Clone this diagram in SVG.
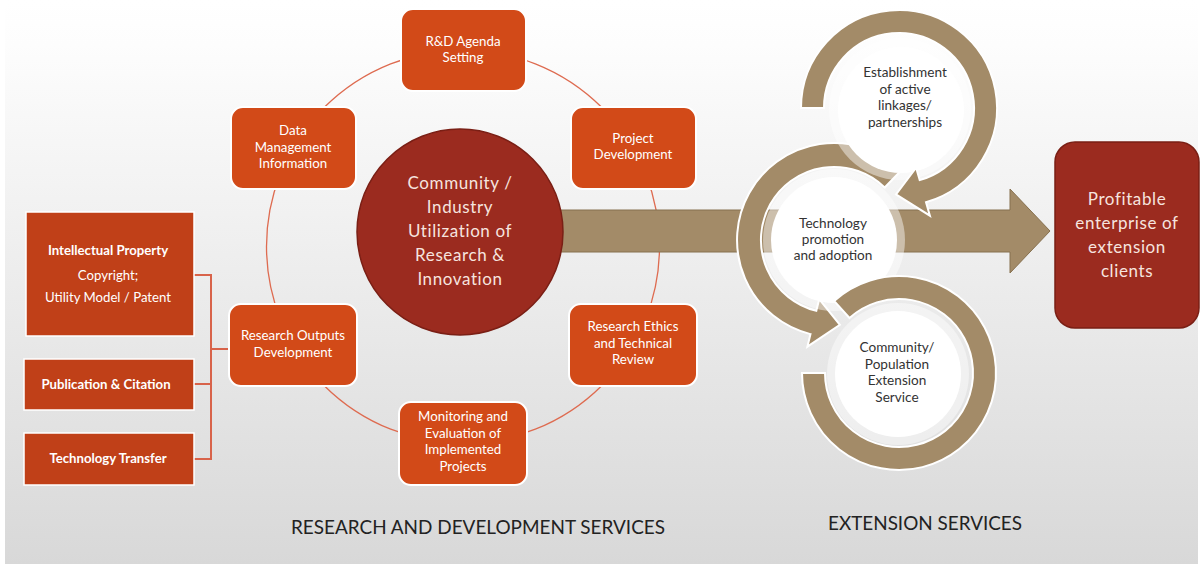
<svg xmlns="http://www.w3.org/2000/svg" width="1203" height="564" viewBox="0 0 1203 564">
<defs>
<linearGradient id="bg" x1="0" y1="0" x2="0" y2="1">
<stop offset="0" stop-color="#ffffff"/>
<stop offset="0.08" stop-color="#fdfdfd"/>
<stop offset="1" stop-color="#d8d8d8"/>
</linearGradient>
<style>
.cyc{fill:#d24a18;stroke:#ffffff;stroke-width:2}
.lbox{fill:#c04018;stroke:#ffffff;stroke-width:1.5}
.wt{fill:#ffffff;font-family:Lato,"Liberation Sans",sans-serif;font-size:13.3px;text-anchor:middle}
.lt{fill:#ffffff;font-family:Lato,"Liberation Sans",sans-serif;font-size:13.2px;text-anchor:middle}
.b{font-weight:bold}
.big{fill:#f6e4df;font-family:Lato,"Liberation Sans",sans-serif;font-size:17px;text-anchor:middle;letter-spacing:0.6px}
.dt{fill:#333333;font-family:Lato,"Liberation Sans",sans-serif;font-size:13.6px;text-anchor:middle}
.ring{fill:#a38b68;stroke:#ffffff;stroke-width:2;stroke-linejoin:miter}
.halo{fill:#ffffff;fill-opacity:0.45}
.disc{fill:#ffffff}
.con{fill:none;stroke:#de6b50;stroke-width:1.3}
.brk{fill:none;stroke:#d8634a;stroke-width:2}
.cap{fill:#222222;font-family:Lato,"Liberation Sans",sans-serif;font-size:20px;text-anchor:middle}
</style>
</defs>
<rect x="0" y="0" width="1203" height="564" fill="#ffffff"/>
<rect x="5" y="0" width="1193" height="564" fill="url(#bg)"/>

<g id="connectors">
<circle class="con" cx="463" cy="246.5" r="196.5"/>
<path class="brk" d="M194,275 H211 V459 H194 M194,384 H211 M211,349 H230"/>
</g>

<g id="big-arrow">
<path d="M560,210 H1010 V189 L1050,231 L1010,273 V252 H560 Z" fill="#a38b68" stroke="#86704f" stroke-width="1"/>
</g>

<g id="hub">
<circle cx="460" cy="232" r="103" fill="#9b2b1f" stroke="#7a1f15" stroke-width="1.5"/>
<text class="big" x="460" y="189">Community /</text>
<text class="big" x="460" y="213">Industry</text>
<text class="big" x="460" y="237">Utilization of</text>
<text class="big" x="460" y="261">Research &amp;</text>
<text class="big" x="460" y="285">Innovation</text>
</g>

<g id="rd-agenda">
<rect class="cyc" x="401" y="9" width="125" height="82" rx="12"/>
<text class="wt" x="463" y="46">R&amp;D Agenda</text>
<text class="wt" x="463" y="62">Setting</text>
</g>
<g id="project-dev">
<rect class="cyc" x="571" y="107" width="125" height="82" rx="12"/>
<text class="wt" x="633" y="143">Project</text>
<text class="wt" x="633" y="159">Development</text>
</g>
<g id="ethics">
<rect class="cyc" x="569" y="304" width="128" height="82" rx="12"/>
<text class="wt" x="633" y="331">Research Ethics</text>
<text class="wt" x="633" y="348">and Technical</text>
<text class="wt" x="633" y="364">Review</text>
</g>
<g id="monitoring">
<rect class="cyc" x="399" y="402" width="128" height="83" rx="12"/>
<text class="wt" x="463" y="421">Monitoring and</text>
<text class="wt" x="463" y="438">Evaluation of</text>
<text class="wt" x="463" y="454">Implemented</text>
<text class="wt" x="463" y="471">Projects</text>
</g>
<g id="outputs">
<rect class="cyc" x="229" y="304" width="128" height="82" rx="12"/>
<text class="wt" x="293" y="340">Research Outputs</text>
<text class="wt" x="293" y="357">Development</text>
</g>
<g id="data-mgmt">
<rect class="cyc" x="231" y="107" width="125" height="82" rx="12"/>
<text class="wt" x="293" y="135">Data</text>
<text class="wt" x="293" y="152">Management</text>
<text class="wt" x="293" y="168">Information</text>
</g>

<g id="ip">
<rect class="lbox" x="26" y="212" width="168" height="124"/>
<text class="lt b" x="108" y="255">Intellectual Property</text>
<text class="lt" x="108" y="280">Copyright;</text>
<text class="lt" x="108" y="302">Utility Model / Patent</text>
</g>
<g id="publication">
<rect class="lbox" x="24" y="359" width="170" height="51"/>
<text class="lt b" x="106" y="389">Publication &amp; Citation</text>
</g>
<g id="techtransfer">
<rect class="lbox" x="24" y="433" width="170" height="52"/>
<text class="lt b" x="108" y="463">Technology Transfer</text>
</g>

<g id="promotion">
<path class="ring" d="M901.4,170.2 A97,97 0 1 0 810.5,334.1 L807.4,346.7 L839.9,324.8 L819.2,299.2 L816.3,310.8 A73,73 0 1 1 884.7,187.5 Z"/>
<circle class="halo" cx="834" cy="240" r="71"/>
<circle class="disc" cx="834" cy="240" r="63"/>
<text class="dt" x="833" y="228">Technology</text>
<text class="dt" x="833" y="244">promotion</text>
<text class="dt" x="833" y="260">and adoption</text>
</g>

<g id="community">
<path class="ring" d="M834.1,300.9 A97,97 0 1 1 802,373 L825,373 A74,74 0 1 0 849.5,318 Z"/>
<circle class="halo" cx="898" cy="374" r="71"/>
<circle class="disc" cx="898" cy="374" r="63"/>
<text class="dt" x="897" y="352">Community/</text>
<text class="dt" x="897" y="369">Population</text>
<text class="dt" x="897" y="385">Extension</text>
<text class="dt" x="897" y="402">Service</text>
</g>

<g id="linkages">
<circle class="halo" cx="900" cy="109" r="71"/>
<circle class="disc" cx="901" cy="110" r="63"/>
<path class="ring" d="M801,108 A98,98 0 1 1 926,202.2 L929.9,215.7 L896,194.4 L916.1,167.6 L919.7,180.1 A75,75 0 1 0 824,108 Z"/>
<text class="dt" x="905" y="77">Establishment</text>
<text class="dt" x="905" y="94">of active</text>
<text class="dt" x="905" y="110">linkages/</text>
<text class="dt" x="905" y="127">partnerships</text>
</g>

<g id="profitable">
<rect x="1055" y="142" width="144" height="186" rx="20" fill="#9b2b1f" stroke="#7a1f15" stroke-width="1.5"/>
<text class="big" x="1127" y="205">Profitable</text>
<text class="big" x="1127" y="229">enterprise of</text>
<text class="big" x="1127" y="253">extension</text>
<text class="big" x="1127" y="277">clients</text>
</g>

<g id="captions">
<text class="cap" x="478" y="534" textLength="374" lengthAdjust="spacingAndGlyphs">RESEARCH AND DEVELOPMENT SERVICES</text>
<text class="cap" x="925" y="530" textLength="194" lengthAdjust="spacingAndGlyphs">EXTENSION SERVICES</text>
</g>
</svg>
